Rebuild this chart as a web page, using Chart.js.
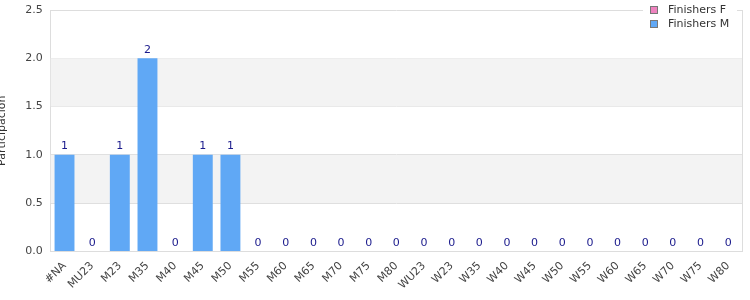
<!DOCTYPE html>
<html><head><meta charset="utf-8">
<script src="https://cdn.jsdelivr.net/npm/chart.js@4/dist/chart.umd.min.js"></script>
<style>html,body{margin:0;padding:0;background:#fff}#w{width:750px;height:300px}</style>
</head><body><div id="w"><canvas id="c"></canvas></div>
<script>
const categories = ["#NA","MU23","M23","M35","M40","M45","M50","M55","M60","M65","M70","M75","M80","WU23","W23","W35","W40","W45","W50","W55","W60","W65","W70","W75","W80"];
const finishersF = [null,null,null,null,null,null,null,null,null,null,null,null,null,null,null,null,null,null,null,null,null,null,null,null,null];
const finishersM = [1,0,1,2,0,1,1,0,0,0,0,0,0,0,0,0,0,0,0,0,0,0,0,0,0];
const yTicks = [0,0.5,1,1.5,2,2.5];
const FONT = "'DejaVu Sans', sans-serif";

const bands = {
  id:'bands',
  beforeDatasetsDraw(chart){
    const {ctx, chartArea:a, scales:{y}} = chart;
    ctx.save();
    ctx.fillStyle = '#f3f3f3';
    for (let i=0;i<yTicks.length-1;i++){
      if (i%2===1){
        const t = y.getPixelForValue(yTicks[i+1]), b = y.getPixelForValue(yTicks[i]);
        ctx.fillRect(a.left, t, a.right-a.left, b-t);
      }
    }
    ctx.restore();
  }
};
const decor = {
  id:'decor',
  afterDatasetsDraw(chart){
    const {ctx, chartArea:a} = chart;
    ctx.save();
    ctx.strokeStyle = '#dddddd'; ctx.lineWidth = 1;
    ctx.beginPath(); ctx.moveTo(a.right+0.5, a.top); ctx.lineTo(a.right+0.5, a.bottom); ctx.stroke();
    ctx.font = '11px ' + FONT; ctx.fillStyle = '#1a1a8c'; ctx.textAlign='center'; ctx.textBaseline='bottom';
    chart.data.datasets.forEach((ds,di)=>{
      const meta = chart.getDatasetMeta(di);
      meta.data.forEach((el,i)=>{
        const v = ds.data[i];
        if (v===null || v===undefined) return;
        ctx.fillText(String(v), el.x, el.y - 3);
      });
    });
    const lx = 643, ly = 0;
    ctx.fillStyle = '#ffffff';
    ctx.fillRect(lx, ly, 94, 33);
    chart.data.datasets.forEach((ds,di)=>{
      const yy = 6 + di*14;
      ctx.fillStyle = ds.backgroundColor;
      ctx.fillRect(650.5, yy+0.5, 7, 7);
      ctx.strokeStyle = '#777'; ctx.lineWidth = 1;
      ctx.strokeRect(650.5, yy+0.5, 7, 7);
      ctx.fillStyle = '#333'; ctx.textAlign='left'; ctx.textBaseline='middle';
      ctx.font = '11px ' + FONT;
      ctx.fillText(ds.label, 668, yy+4);
    });
    ctx.restore();
  }
};

new Chart(document.getElementById('c'), {
  type:'bar',
  data:{
    labels: categories,
    datasets:[
      {label:'Finishers F', data: finishersF, backgroundColor:'#ee82bf', skipNull:true},
      {label:'Finishers M', data: finishersM, backgroundColor:'#60a8f5', skipNull:true}
    ]
  },
  options:{
    responsive:true, maintainAspectRatio:false, animation:false,
    layout:{padding:{top:10, right:8, left:-4, bottom:0}},
    plugins:{legend:{display:false}, tooltip:{enabled:false}},
    datasets:{bar:{barPercentage:0.9, categoryPercentage:0.8}},
    scales:{
      x:{
        grid:{display:false, drawTicks:false},
        border:{display:true, color:'#dddddd'},
        ticks:{font:{family:FONT, size:11}, color:'#444', minRotation:45, maxRotation:45, autoSkip:false, padding:8}
      },
      y:{
        min:0, max:2.5,
        afterBuildTicks(ax){ ax.ticks = yTicks.map(v=>({value:v})); },
        afterFit(ax){ ax.paddingTop = 0; },
        grid:{color:'#dddddd', drawTicks:false},
        border:{display:true, color:'#dddddd'},
        ticks:{font:{family:FONT, size:11}, color:'#444', padding:8, callback:v=>Number(v).toFixed(1)},
        title:{display:true, text:'Participación', font:{family:FONT, size:11}, color:'#333', padding:{top:0,bottom:8}}
      }
    }
  },
  plugins:[bands, decor]
});
</script></body></html>
